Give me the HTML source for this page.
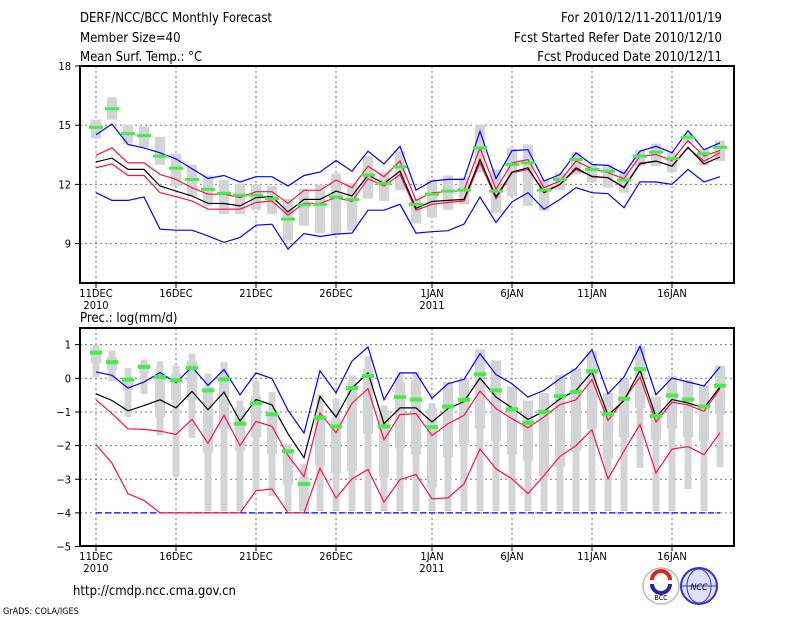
<!DOCTYPE html>
<html><head><meta charset="utf-8">
<style>
body{margin:0;background:#fff;}
svg{display:block;font-family:"DejaVu Sans Condensed","Liberation Sans",sans-serif;}
text{fill:#000;}
</style></head>
<body>
<svg id="chart" width="800" height="618" viewBox="0 0 800 618" xmlns="http://www.w3.org/2000/svg">
<rect width="800" height="618" fill="#fff"/>
<g font-size="13">
<text x="80" y="22">DERF/NCC/BCC Monthly Forecast</text>
<text x="80" y="42">Member Size=40</text>
<text x="80" y="61">Mean Surf. Temp.: °C</text>
<text x="722" y="22" text-anchor="end">For 2010/12/11-2011/01/19</text>
<text x="722" y="42" text-anchor="end">Fcst Started Refer Date 2010/12/10</text>
<text x="722" y="61" text-anchor="end">Fcst Produced Date 2010/12/11</text>
<text x="80" y="322">Prec.: log(mm/d)</text>
<text x="73" y="595" font-size="13">http://cmdp.ncc.cma.gov.cn</text>
<text x="3" y="614" font-size="9">GrADS: COLA/IGES</text>
</g>
<g id="top"></g>
<g id="bot"></g>
<g>
<circle cx="661" cy="586" r="18" fill="#fff" stroke="#bbb" stroke-width="1.5"/>
<path d="M652 580 a9 9 0 0 1 18 0" fill="none" stroke="#d22" stroke-width="4"/>
<path d="M652 584 a9 9 0 0 0 18 0" fill="none" stroke="#22a" stroke-width="4"/>
<text x="661" y="600" font-size="7" text-anchor="middle" fill="#22a">BCC</text>
</g>
<g>
<circle cx="699" cy="586" r="18" fill="#dde0ff" stroke="#33c" stroke-width="2"/>
<ellipse cx="699" cy="586" rx="12" ry="17" fill="none" stroke="#33c" stroke-width="1"/>
<line x1="681" y1="586" x2="717" y2="586" stroke="#33c"/>
<text x="699" y="590" font-size="9" font-style="italic" text-anchor="middle" fill="#22a">NCC</text>
</g>
</svg>
<script>
const days = ["11DEC","","","","","16DEC","","","","","21DEC","","","","","26DEC","","","","","","1JAN","","","","","6JAN","","","","","11JAN","","","","","16JAN","","",""];
const tBlueHi=[14.52,15.06,14.02,13.85,13.6,13.29,12.79,12.3,12.45,12.12,12.39,12.39,11.92,12.45,12.62,13.21,12.67,13.68,13.04,13.93,11.71,12.17,12.25,12.25,14.69,12.29,13.71,13.76,12.17,12.5,13.6,13.01,12.96,12.54,13.68,13.93,13.6,14.72,13.76,14.1];
const tRedHi=[13.48,13.85,13.09,13.09,12.5,12.25,11.83,11.5,11.5,11.33,11.63,11.63,11.04,11.7,11.7,12.22,11.83,12.92,12.39,13.18,11.19,11.58,11.63,11.7,13.85,11.75,13.09,13.26,11.83,12.17,13.18,12.79,12.59,12.29,13.43,13.51,13.21,14.22,13.43,13.71];
const tMean=[13.14,13.33,12.76,12.76,11.92,11.66,11.41,11.04,11.03,10.91,11.33,11.38,10.6,11.24,11.24,11.66,11.41,12.47,12.05,12.67,10.79,11.13,11.19,11.24,13.26,11.36,12.62,12.84,11.58,12.0,12.84,12.39,12.34,11.83,13.04,13.18,12.92,13.88,13.04,13.39];
const tRedLo=[12.84,13.04,12.45,12.45,11.58,11.38,11.16,10.74,10.74,10.74,11.08,11.16,10.44,11.04,11.04,11.33,11.13,12.29,11.92,12.5,10.69,10.99,11.08,11.16,13.09,11.28,12.59,12.76,11.66,12.0,12.76,12.42,12.34,11.87,13.09,13.18,12.92,13.85,13.18,13.6];
const tBlueLo=[11.58,11.19,11.19,11.36,9.73,9.68,9.68,9.39,9.06,9.31,9.93,9.98,8.72,9.51,9.36,9.48,9.53,10.69,10.69,10.99,9.53,9.6,9.65,9.98,11.36,10.07,11.11,11.58,10.74,11.24,11.83,11.58,11.53,10.82,12.13,12.12,12.0,12.76,12.12,12.39];
const tObs=[14.89,15.83,14.57,14.47,13.43,12.82,12.25,11.75,11.55,11.45,11.45,11.28,10.24,10.96,10.99,11.36,11.24,12.47,12.05,12.89,10.99,11.5,11.66,11.71,13.85,11.66,13.01,13.09,11.71,12.25,13.26,12.76,12.67,12.22,13.43,13.63,13.31,14.39,13.55,13.88];
const tRangeHi=[15.28,16.42,15.03,14.94,14.4,13.56,13.0,12.45,12.22,12.05,12.0,11.92,11.28,11.78,12.0,12.55,12.05,13.43,12.62,13.68,11.24,12.25,12.45,12.34,15.03,12.76,13.82,14.02,12.25,12.59,13.63,12.96,13.01,12.76,13.76,14.07,13.6,14.6,13.8,14.22];
const tRangeLo=[14.32,15.28,14.07,13.9,13.0,11.92,11.41,10.91,10.49,10.49,10.71,10.49,9.14,9.9,9.53,9.48,9.65,11.28,11.16,11.71,10.02,10.32,10.71,10.99,12.62,10.54,11.41,10.91,10.66,11.71,12.5,12.12,11.83,11.58,12.92,12.92,12.62,14.1,12.96,13.18];
const tTicks=[18,15,12,9];

const pBlueHi=[0.19,0.09,-0.29,-0.11,0.17,-0.13,0.34,-0.21,0.26,-0.49,0.16,-0.01,-0.95,-1.63,0.22,-0.43,0.51,0.93,-0.64,0.16,0.16,-0.59,-0.16,-0.03,0.73,0.11,-0.16,-0.56,-0.36,-0.01,0.29,0.85,-0.46,0.04,0.95,-0.49,0.01,-0.11,-0.23,0.34];
const pMean=[-0.46,-0.66,-0.97,-0.81,-0.64,-0.88,-0.39,-0.93,-0.41,-1.27,-0.63,-0.79,-1.65,-2.36,-0.54,-1.15,-0.29,0.16,-1.35,-0.88,-0.88,-1.3,-0.9,-0.69,0.01,-0.56,-0.88,-1.22,-0.98,-0.61,-0.36,0.19,-1.1,-0.66,0.24,-1.15,-0.63,-0.73,-0.88,-0.26];
const pRedHi=[-0.64,-1.05,-1.5,-1.52,-1.57,-1.67,-1.22,-1.93,-1.1,-2.0,-1.28,-1.43,-2.29,-2.92,-1.03,-1.62,-0.74,-0.31,-1.83,-1.08,-1.05,-1.7,-1.35,-1.1,-0.38,-0.9,-1.2,-1.47,-1.15,-0.78,-0.64,-0.04,-1.25,-0.63,0.04,-1.3,-0.71,-0.79,-0.98,-0.31];
const pRedLo=[-1.97,-2.52,-3.43,-3.63,-4,-4,-4,-4,-4,-4,-3.34,-3.29,-4,-4,-2.67,-3.56,-2.99,-2.71,-3.68,-3.01,-2.86,-3.58,-3.55,-3.14,-2.1,-2.69,-2.99,-3.43,-2.89,-2.32,-2.0,-1.53,-2.99,-2.16,-1.37,-2.81,-2.1,-2.03,-2.27,-1.62];
const pBlueLo=[-4,-4,-4,-4,-4,-4,-4,-4,-4,-4,-4,-4,-4,-4,-4,-4,-4,-4,-4,-4,-4,-4,-4,-4,-4,-4,-4,-4,-4,-4,-4,-4,-4,-4,-4,-4,-4,-4,-4,-4];
const pObs=[0.76,0.48,-0.04,0.34,0.04,-0.06,0.31,-0.36,-0.03,-1.35,-0.74,-1.07,-2.17,-3.14,-1.17,-1.43,-0.29,0.07,-1.43,-0.56,-0.63,-1.45,-0.84,-0.64,0.12,-0.36,-0.92,-1.32,-1.0,-0.53,-0.41,0.21,-1.07,-0.61,0.27,-1.12,-0.51,-0.63,-0.84,-0.22];
const pWhiskHi=[1.0,0.83,0.31,0.55,0.5,0.38,0.73,0.14,0.48,-0.66,-0.06,-0.41,-1.95,-2.54,-0.48,-0.61,0.09,0.66,-0.81,0.17,0.17,-0.74,-0.11,-0.01,0.86,0.53,-0.24,-0.66,-0.44,0.09,0.29,0.8,-0.44,-0.01,0.95,-0.54,0.06,-0.06,-0.21,0.38];
const pWhiskLo=[0.04,-0.08,-1.15,-0.46,-1.7,-2.94,-1.77,-3.95,-3.95,-3.95,-3.36,-3.5,-3.95,-3.95,-3.95,-3.95,-3.95,-3.95,-3.95,-3.95,-3.95,-3.95,-3.95,-3.95,-3.95,-3.95,-3.95,-3.95,-3.95,-3.95,-3.95,-3.95,-3.95,-3.95,-2.66,-3.95,-3.95,-3.29,-3.95,-2.64];
const pBoxHi=[0.88,0.63,-0.06,0.43,0.14,0.14,0.53,-0.26,0.14,-0.86,-0.51,-0.95,-2.1,-2.94,-1.1,-1.2,-0.11,0.29,-0.95,-0.11,-0.06,-0.9,-0.11,-0.01,0.86,0.53,-0.24,-0.66,-0.44,0.09,0.29,0.8,-0.44,-0.01,0.95,-0.54,0.06,-0.06,-0.21,0.38];
const pBoxLo=[0.45,0.24,-0.36,0.14,-1.15,-0.66,-0.66,-2.22,-1.5,-2.16,-1.75,-2.24,-3.17,-3.95,-2.61,-2.82,-2.76,-1.65,-2.94,-2.08,-2.26,-3.24,-2.36,-1.97,-1.5,-1.87,-2.26,-2.46,-2.91,-2.64,-2.16,-1.5,-2.39,-1.75,-0.88,-1.83,-1.5,-1.75,-1.87,-1.07];
const pTicks=[1,0,-1,-2,-3,-4,-5];

const NS="http://www.w3.org/2000/svg";
function mk(parent,tag,attrs){const e=document.createElementNS(NS,tag);for(const k in attrs)e.setAttribute(k,attrs[k]);parent.appendChild(e);return e;}
const xOf=i=>96+16*i;
const yTop=v=>66+(18-v)*19.73;
const yBot=v=>378.3-v*33.65;

function panel(g,y0,y1,yf,ticks){
  ticks.forEach(t=>{
    const y=yf(t);
    if(y>y0+2&&y<y1-2){const l=mk(g,'line',{x1:80,x2:734,y1:y,y2:y,stroke:'#777','stroke-dasharray':'2,3'});
      
      }
    const tk=mk(g,'line',{x1:75,x2:80,y1:y,y2:y,stroke:'#000'});
    
    
    const tx=mk(g,'text',{x:71,y:y+4,'font-size':11,'text-anchor':'end'});tx.textContent=String(t).replace('-','−');
    
    
  });
  days.forEach((d,i)=>{
    if(!d)return;const x=xOf(i);
    const l=mk(g,'line',{x1:x,x2:x,y1:y0,y2:y1,stroke:'#777','stroke-dasharray':'2,3'});
    
    
    const tk=mk(g,'line',{x1:x,x2:x,y1:y1,y2:y1+5,stroke:'#000'});
    
    
    const tx=mk(g,'text',{x:x,y:y1+14,'font-size':11,'text-anchor':'middle'});tx.textContent=d;
    
    
    if(d==='11DEC'||d==='1JAN'){const yr=mk(g,'text',{x:x,y:y1+26,'font-size':11,'text-anchor':'middle'});yr.textContent=d==='11DEC'?'2010':'2011';
      
      }
  });
}
function line(g,arr,yf,color,name,dash){
  const p=mk(g,'polyline',{points:arr.map((v,i)=>xOf(i)+','+yf(v).toFixed(1)).join(' '),fill:'none',stroke:color,'stroke-width':1.2});
  if(dash)p.setAttribute('stroke-dasharray',dash);
  
  
}
function frame(g,y0,y1){
  const r=mk(g,'rect',{x:80,y:y0,width:654,height:y1-y0,fill:'none',stroke:'#000','stroke-width':2});
  
  
}

const T=document.getElementById('top');
panel(T,66,283,yTop,tTicks);
tRangeHi.forEach((v,i)=>{
  const r=mk(T,'rect',{x:xOf(i)-5,y:yTop(v),width:10,height:yTop(tRangeLo[i])-yTop(v),fill:'#d3d4d8'});
  
  
});
line(T,tBlueLo,yTop,'#0000ff','min-line');
line(T,tBlueHi,yTop,'#0000ff','max-line');
line(T,tRedLo,yTop,'#ff1040','lower-red-line');
line(T,tRedHi,yTop,'#ff1040','upper-red-line');
line(T,tMean,yTop,'#000','mean-line');
tObs.forEach((v,i)=>{
  const r=mk(T,'rect',{x:xOf(i)-7,y:yTop(v)-1.5,width:14,height:3,fill:'#44ee44'});
  
  
});
frame(T,66,283);

const B=document.getElementById('bot');
panel(B,328,546,yBot,pTicks);
pWhiskHi.forEach((v,i)=>{
  const w=mk(B,'rect',{x:xOf(i)-3.5,y:yBot(v),width:7,height:yBot(pWhiskLo[i])-yBot(v),fill:'#d3d4d8'});
  
  
  const b=mk(B,'rect',{x:xOf(i)-5,y:yBot(pBoxHi[i]),width:10,height:yBot(pBoxLo[i])-yBot(pBoxHi[i]),fill:'#d3d4d8'});
  
  
});
line(B,pBlueLo,yBot,'#0000ff','min-line','6,3');
line(B,pBlueHi,yBot,'#0000ff','max-line');
line(B,pRedLo,yBot,'#ff1040','lower-red-line');
line(B,pRedHi,yBot,'#ff1040','upper-red-line');
line(B,pMean,yBot,'#000','mean-line');
pObs.forEach((v,i)=>{
  const r=mk(B,'rect',{x:xOf(i)-6,y:yBot(v)-2,width:12,height:4,fill:'#44ee44'});
  
  
});
frame(B,328,546);
</script>
</body></html>
